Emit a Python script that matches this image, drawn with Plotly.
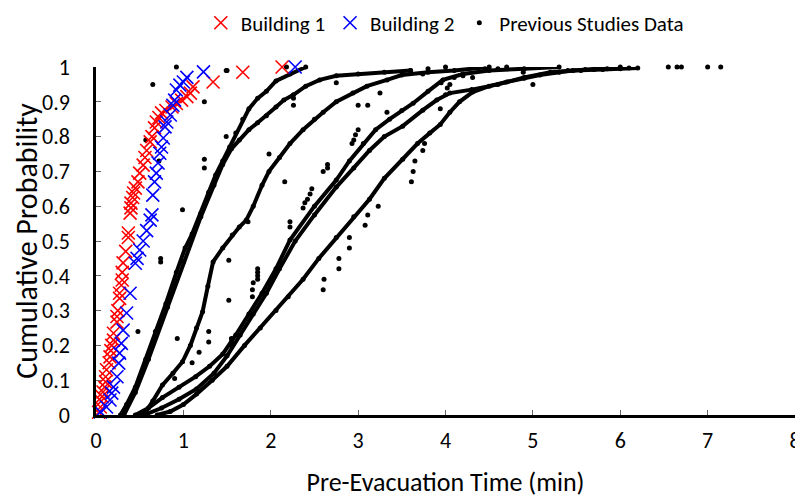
import plotly.graph_objects as go

# ---------------- data ----------------
b1_x = [0.03, 0.05, 0.06, 0.07, 0.08, 0.10, 0.11, 0.11, 0.12, 0.15, 0.16, 0.17, 0.18, 0.20, 0.20,
        0.24, 0.24, 0.25, 0.27, 0.27, 0.29, 0.30, 0.30, 0.31, 0.34, 0.37, 0.37, 0.39, 0.40, 0.40,
        0.42, 0.43, 0.45, 0.48, 0.50, 0.54, 0.56, 0.58, 0.62, 0.64, 0.67, 0.69, 0.72, 0.75, 0.80,
        0.87, 0.92, 0.98, 1.04, 1.08, 1.11, 1.34, 1.68, 2.13]
b1_y = [0.008, 0.023, 0.04, 0.053, 0.066, 0.08, 0.095, 0.11, 0.13, 0.15, 0.167, 0.185, 0.2, 0.215, 0.235,
        0.267, 0.283, 0.3, 0.335, 0.35, 0.373, 0.388, 0.41, 0.437, 0.47, 0.51, 0.523, 0.58, 0.595, 0.609,
        0.625, 0.638, 0.652, 0.67, 0.695, 0.718, 0.74, 0.76, 0.785, 0.8, 0.825, 0.842, 0.855, 0.868, 0.875,
        0.885, 0.895, 0.905, 0.915, 0.925, 0.943, 0.957, 0.985, 1.0]

b2_x = [0.05, 0.12, 0.16, 0.18, 0.20, 0.24, 0.26, 0.27, 0.29, 0.31, 0.35, 0.39, 0.45, 0.47, 0.50,
        0.54, 0.58, 0.62, 0.64, 0.65, 0.67, 0.69, 0.71, 0.73, 0.75, 0.77, 0.79, 0.81, 0.85, 0.88,
        0.90, 0.92, 0.96, 1.00, 1.04, 1.23, 2.28]
b2_y = [0.009, 0.023, 0.043, 0.063, 0.08, 0.11, 0.149, 0.178, 0.206, 0.244, 0.293, 0.35, 0.436, 0.45, 0.474,
        0.50, 0.53, 0.56, 0.575, 0.632, 0.67, 0.695, 0.724, 0.752, 0.77, 0.796, 0.828, 0.842, 0.862, 0.89,
        0.905, 0.934, 0.948, 0.957, 0.97, 0.986, 1.0]

c1_x = [0.28, 0.35, 0.45, 0.57, 0.68, 0.80, 0.92, 1.02, 1.10, 1.20, 1.29, 1.37, 1.45, 1.53, 1.60,
        1.68, 1.75, 1.85, 1.95, 2.06, 2.22, 2.40]
c1_y = [0.0, 0.03, 0.08, 0.16, 0.24, 0.32, 0.41, 0.48, 0.52, 0.58, 0.64, 0.69, 0.73, 0.77, 0.81,
        0.85, 0.88, 0.91, 0.93, 0.96, 0.98, 1.0]

c1b_x = [0.32, 0.45, 0.60, 0.82, 1.00, 1.20, 1.35, 1.45, 1.55, 1.64, 1.75, 1.85, 1.95, 2.06, 2.15,
         2.26, 2.40, 2.56, 2.75, 3.00, 3.30, 3.60]
c1b_y = [0.0, 0.065, 0.16, 0.31, 0.44, 0.57, 0.66, 0.72, 0.765, 0.79, 0.82, 0.84, 0.86, 0.885, 0.905,
         0.92, 0.945, 0.963, 0.975, 0.98, 0.985, 0.99]

c2_x = [0.50, 0.57, 0.65, 0.76, 0.88, 0.99, 1.08, 1.15, 1.22, 1.28, 1.34, 1.45, 1.56, 1.64, 1.72,
        1.80, 1.90, 1.98, 2.10, 2.22, 2.37, 2.50, 2.60, 2.75, 2.94, 3.10, 3.33, 3.50, 3.80, 4.10, 4.50]
c2_y = [0.0, 0.01, 0.04, 0.086, 0.12, 0.153, 0.20, 0.25, 0.297, 0.37, 0.44, 0.48, 0.517, 0.54, 0.56,
        0.60, 0.66, 0.70, 0.74, 0.78, 0.82, 0.85, 0.87, 0.90, 0.925, 0.945, 0.963, 0.977, 0.985, 0.99, 1.0]

c3_x = [0.45, 0.60, 0.76, 0.95, 1.14, 1.30, 1.45, 1.60, 1.75, 1.90, 2.06, 2.22, 2.50, 2.75, 2.90,
        3.06, 3.20, 3.36, 3.50, 3.63, 3.80, 3.97, 4.20, 4.50, 4.90, 5.30]
c3_y = [0.0, 0.02, 0.05, 0.08, 0.11, 0.14, 0.175, 0.23, 0.29, 0.35, 0.42, 0.503, 0.60, 0.675, 0.73,
        0.78, 0.82, 0.85, 0.875, 0.896, 0.93, 0.963, 0.98, 0.99, 0.995, 1.0]

c4_x = [0.55, 0.75, 0.95, 1.15, 1.35, 1.50, 1.65, 1.80, 1.95, 2.10, 2.28, 2.50, 2.75, 2.95, 3.13,
        3.30, 3.51, 3.74, 3.90, 4.05, 4.30, 4.60, 4.90, 5.20, 5.60, 6.00]
c4_y = [0.0, 0.02, 0.045, 0.075, 0.12, 0.17, 0.23, 0.29, 0.35, 0.42, 0.50, 0.575, 0.655, 0.71, 0.76,
        0.80, 0.83, 0.876, 0.905, 0.925, 0.935, 0.95, 0.97, 0.985, 0.993, 1.0]

c5_x = [0.70, 0.85, 1.00, 1.15, 1.33, 1.50, 1.70, 1.88, 2.06, 2.20, 2.37, 2.55, 2.75, 2.95, 3.13,
        3.30, 3.51, 3.68, 3.82, 3.94, 4.05, 4.16, 4.31, 4.50, 4.70, 4.90, 5.08, 5.30, 5.46, 5.80, 6.20]
c5_y = [0.0, 0.01, 0.03, 0.06, 0.10, 0.14, 0.20, 0.25, 0.30, 0.34, 0.39, 0.45, 0.51, 0.57, 0.62,
        0.68, 0.735, 0.78, 0.81, 0.835, 0.87, 0.90, 0.928, 0.945, 0.957, 0.968, 0.977, 0.985, 0.99, 0.993, 0.997]

out_x = [0.92, 0.65, 1.24, 1.49, 0.57, 1.24, 1.24, 1.49, 0.99, 1.98, 1.74, 0.72,
         0.74, 0.74, 0.48, 0.93, 1.52, 1.52, 1.29, 1.29, 1.18, 1.10, 0.90,
         1.85, 1.85, 1.85, 1.85, 1.80, 1.79, 1.79, 1.55, 1.55, 1.55,
         2.75, 3.25, 3.00, 3.11, 2.26, 2.26, 3.33, 3.74, 3.94,
         3.00, 2.97, 2.95, 2.93, 2.65, 2.65, 2.60, 2.16, 2.47, 2.45, 2.42, 2.39, 2.37, 2.22, 2.22,
         3.76, 3.74, 3.65, 3.63, 3.61, 3.23, 3.11, 3.08, 2.90, 2.90, 2.78, 2.78, 2.61, 2.60,
         4.31, 4.89, 5.00, 2.18, 1.50,
         5.25, 5.40, 5.55, 5.70, 5.85, 6.00, 6.10, 6.55, 6.65, 6.70, 7.00, 7.15,
         4.00, 4.02, 4.05, 3.95, 4.10, 4.20, 4.45, 4.60, 4.70, 3.60, 3.80, 4.00]
out_y = [1.0, 0.95, 0.90, 0.99, 0.79, 0.735, 0.71, 0.80, 0.59, 0.75, 0.555, 0.73,
         0.45, 0.44, 0.24, 0.22, 0.445, 0.33, 0.24, 0.21, 0.18, 0.15, 0.105,
         0.42, 0.41, 0.40, 0.39, 0.38, 0.36, 0.34, 0.22, 0.21, 0.20,
         0.955, 0.925, 0.89, 0.89, 0.91, 0.89, 0.87, 0.98, 0.88,
         0.82, 0.805, 0.79, 0.78, 0.72, 0.71, 0.70, 0.67, 0.65, 0.635, 0.62, 0.61, 0.595, 0.555, 0.54,
         0.78, 0.76, 0.73, 0.70, 0.67, 0.60, 0.575, 0.545, 0.51, 0.48, 0.45, 0.42, 0.39, 0.36,
         0.97, 0.985, 0.95, 1.0, 0.99,
         0.985, 0.99, 0.99, 0.993, 0.995, 0.995, 0.997, 1.0, 1.0, 1.0, 1.0, 1.0,
         0.92, 0.94, 0.95, 0.955, 0.97, 0.975, 0.995, 0.995, 1.0, 0.99, 0.995, 1.0]

x_ticks = [0, 1, 2, 3, 4, 5, 6, 7, 8]
y_ticks = [0, 0.1, 0.2, 0.3, 0.4, 0.5, 0.6, 0.7, 0.8, 0.9, 1]
y_tick_text = ["0", "0.1", "0.2", "0.3", "0.4", "0.5", "0.6", "0.7", "0.8", "0.9", "1"]

# ---------------- figure ----------------
FONT = "Carlito, Calibri, Lato, sans-serif"
fig = go.Figure()

curves = [(c1_x, c1_y), (c1b_x, c1b_y), (c2_x, c2_y), (c3_x, c3_y), (c4_x, c4_y), (c5_x, c5_y)]
for cx, cy in curves:
    fig.add_trace(go.Scatter(
        x=cx, y=cy, mode="lines+markers", showlegend=False, hoverinfo="skip",
        line=dict(color="black", width=4, shape="linear"),
        marker=dict(color="black", size=5), cliponaxis=False))

fig.add_trace(go.Scatter(
    x=out_x, y=out_y, mode="markers", name="Previous Studies Data", legendrank=3,
    marker=dict(color="black", size=5), cliponaxis=False))

fig.add_trace(go.Scatter(
    x=b1_x, y=b1_y, mode="markers", name="Building 1", legendrank=1,
    marker=dict(symbol="x-thin", size=13, color="#ff0000",
                line=dict(color="#ff0000", width=1.6)), cliponaxis=False))

fig.add_trace(go.Scatter(
    x=b2_x, y=b2_y, mode="markers", name="Building 2", legendrank=2,
    marker=dict(symbol="x-thin", size=13, color="#0000ff",
                line=dict(color="#0000ff", width=1.6)), cliponaxis=False))

# page body adds an 8px offset, so the figure is 795x494
fig.update_layout(
    width=795, height=494,
    margin=dict(l=88, r=8, t=59, b=87, autoexpand=False),
    paper_bgcolor="white", plot_bgcolor="white",
    font=dict(family=FONT, size=22, color="black"),
    legend=dict(orientation="h", xref="paper", yref="paper",
                x=0.499, xanchor="center", y=1.126, yanchor="middle",
                font=dict(size=21), itemwidth=30, tracegroupgap=0,
                bgcolor="rgba(0,0,0,0)"),
    showlegend=True,
)

fig.update_xaxes(
    range=[0, 8], tickvals=x_ticks, ticktext=[str(v) for v in x_ticks],
    showgrid=False, zeroline=False, showline=True, linecolor="black", linewidth=2.5,
    ticks="inside", ticklen=5, tickcolor="#666666", tickwidth=1, automargin=False,
    ticklabelstandoff=4,
    tickfont=dict(size=22), title=dict(text="Pre-Evacuation Time (min)", font=dict(size=26), standoff=20),
)
fig.update_yaxes(
    range=[0, 1], tickvals=y_ticks, ticktext=y_tick_text,
    showgrid=False, zeroline=False, showline=True, linecolor="black", linewidth=2.5,
    ticks="inside", ticklen=5, tickcolor="#666666", tickwidth=1, automargin=False,
    ticklabelstandoff=19,
    tickfont=dict(size=22), title=dict(text="Cumulative Probability", font=dict(size=30), standoff=20),
)

fig.write_html("out.html")
